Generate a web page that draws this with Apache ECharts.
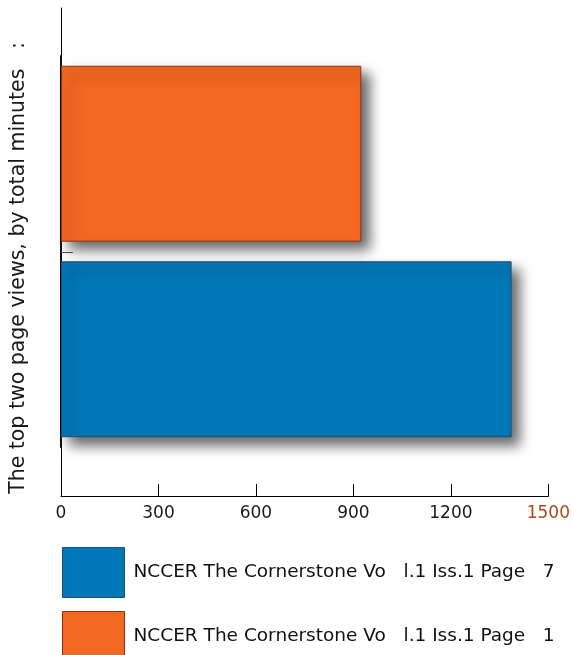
<!DOCTYPE html>
<html>
<head>
<meta charset="utf-8">
<style>
  html, body { margin: 0; padding: 0; background: #ffffff; }
  #chart { width: 573px; height: 655px; }
</style>
<script src="https://cdn.jsdelivr.net/npm/echarts@6/dist/echarts.min.js"></script>
</head>
<body>
<div id="chart"></div>
<script>
// Page names (bottom to top on the category axis)
const pages = [
  'NCCER The Cornerstone Vo   l.1 Iss.1 Page   7',
  'NCCER The Cornerstone Vo   l.1 Iss.1 Page   1'
];
// Total minutes viewed per page
const minutes = [1385, 923];
// Bar colours per page
const colors = ['#0077B6', '#F26722'];
const borders = ['#1d4e74', '#8a3512'];
// Value-axis tick labels
const xTicks = [0, 300, 600, 900, 1200, 1500];
const axisTitle = 'The top two page views, by total minutes   :';

const chart = echarts.init(document.getElementById('chart'), null, { renderer: 'canvas' });

const font = 'DejaVu Sans';
const xMin = xTicks[0], xMax = xTicks[xTicks.length - 1];
const xStep = xTicks[1] - xTicks[0];

// One series per page, stacked so each fills its own category band
const series = pages.map((name, i) => ({
  name: name,
  type: 'bar',
  stack: 'views',
  xAxisIndex: 1,
  yAxisIndex: 1,
  barCategoryGap: '10%',
  data: pages.map((_, j) => (j === i ? minutes[i] : '-')),
  itemStyle: {
    color: colors[i],
    borderColor: borders[i],
    borderWidth: 1,
    shadowColor: 'rgba(0,0,0,0.6)',
    shadowBlur: 12,
    shadowOffsetX: 8,
    shadowOffsetY: 8
  }
}));

// One single-entry legend per page, stacked downwards
const legendTops = [547, 611];
const legends = pages.map((name, i) => ({
  orient: 'vertical',
  left: 62,
  top: legendTops[i],
  padding: 0,
  itemWidth: 62,
  itemHeight: 50,
  icon: 'rect',
  data: [name],
  textStyle: { fontFamily: font, fontSize: 18.5, color: '#111', padding: [0, 0, 0, 4] },
  itemStyle: { shadowBlur: 0, shadowOffsetX: 0, shadowOffsetY: 0, borderWidth: 1 }
}));

chart.setOption({
  backgroundColor: '#ffffff',
  animation: false,
  grid: [
    // outer frame carrying the value axis and the full-height axis line
    { left: 61, right: 24, top: 8, bottom: 159 },
    // inner band region holding the bars
    { left: 61, right: 24, top: 56, bottom: 208 }
  ],
  xAxis: [
    {
      type: 'value',
      gridIndex: 0,
      min: xMin, max: xMax, interval: xStep,
      axisLine: { show: true, lineStyle: { color: '#000', width: 1 } },
      axisTick: { show: true, inside: true, length: 12, lineStyle: { color: '#000', width: 1 } },
      splitLine: { show: false },
      axisLabel: {
        margin: 9,
        fontFamily: font,
        fontSize: 17,
        formatter: (v) => String(v),
        color: (v) => (Number(v) === xMax ? '#b5441a' : '#1a1a1a')
      }
    },
    {
      type: 'value',
      gridIndex: 1,
      min: xMin, max: xMax, interval: xStep,
      show: false
    }
  ],
  yAxis: [
    {
      type: 'value',
      gridIndex: 0,
      min: 0, max: 1,
      axisLine: { show: true, lineStyle: { color: '#000', width: 1 } },
      // single separator tick between the two page bands
      axisTick: {
        show: true, inside: true, length: 12,
        customValues: [0.5],
        lineStyle: { color: '#555', width: 1 }
      },
      axisLabel: { show: false },
      splitLine: { show: false },
      name: axisTitle,
      nameLocation: 'middle',
      nameGap: 32,
      nameRotate: 90,
      nameTextStyle: {
        fontFamily: font,
        fontSize: 20.5,
        color: '#1a1a1a',
        padding: [0, 32, 0, 0]
      }
    },
    {
      type: 'category',
      gridIndex: 1,
      data: pages,
      axisLine: { show: true, lineStyle: { color: '#111', width: 2 } },
      axisTick: { show: false },
      axisLabel: { show: false },
      splitLine: { show: false }
    }
  ],
  legend: legends,
  series: series
});
</script>
</body>
</html>
